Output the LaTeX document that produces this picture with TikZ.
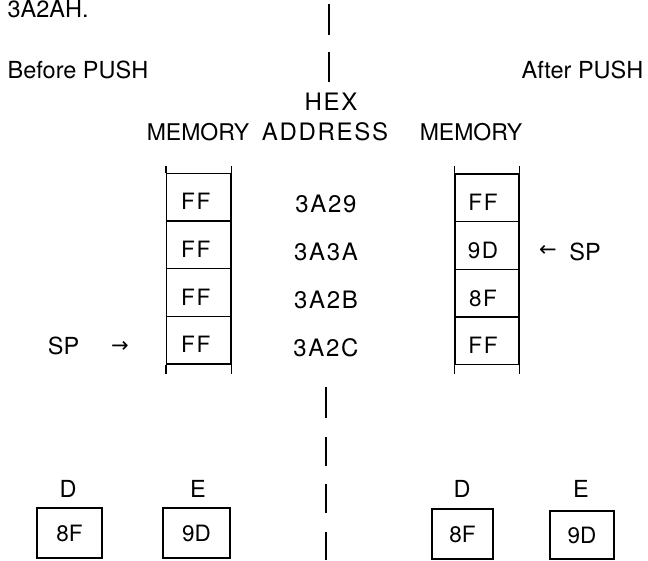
\documentclass[tikz,border=0pt]{standalone}
\usepackage{fontspec}
\setmainfont{TeX Gyre Heros}
\newfontfamily\spaced[LetterSpace=7]{TeX Gyre Heros}
\newfontfamily\arrowfont{DejaVu Sans}
\usetikzlibrary{calc}
\begin{document}
\begin{tikzpicture}[x=1pt,y=-1pt,line width=1.3pt,
  txt/.style={inner sep=0pt,anchor=base,font=\fontsize{23.5}{24}\selectfont},
  head/.style={inner sep=0pt,anchor=base,font=\fontsize{24}{24}\selectfont\spaced},
  memhead/.style={inner sep=0pt,anchor=base,font=\fontsize{23}{24}\selectfont},
  celltxt/.style={inner sep=0pt,anchor=base,font=\fontsize{22.5}{23}\selectfont\spaced},
  arr/.style={inner sep=0pt,font=\fontsize{21}{21}\selectfont\arrowfont},
  memcell/.style={draw,rectangle,inner sep=0pt,minimum width=64.5pt,minimum height=47.7pt},
  regbox/.style={draw,rectangle,inner sep=0pt,minimum height=50pt,font=\fontsize{22.5}{23}\selectfont}
]
\useasboundingbox (0,0) rectangle (648,560);

% titles
\node[txt,anchor=base west] (title) at (7,17.5) {3A2AH.};
\node[txt,anchor=base west] (before) at (7,78) {Before PUSH};
\node[txt,anchor=base east] (after) at (644,78) {After PUSH};
\node[head] (hex) at (331,110) {HEX};
\node[memhead] (memL) at (198,140) {MEMORY};
\node[head] (addr) at (325,140) {ADDRESS};
\node[memhead] (memR) at (471,140) {MEMORY};

% dashed centre line
\foreach \a/\b in {4/35,52/82}{\draw (329,\a) -- (329,\b);}
\foreach \a/\b in {387/418,437/466,484/513,532/560}{\draw (326,\a) -- (326,\b);}

% left memory column
\foreach \i/\v in {1/FF,2/FF,3/FF,4/FF}{
  \node[memcell] (L\i) at (198.75,{173.5+47.6*(\i-0.5)}) {};
  \node[celltxt] (Lt\i) at ($(L\i.north)+(-3,37)$) {\v};
}
\draw (L1.north west) -- ++(0,-6.5);
\draw (L1.north east) -- ++(0,-6.5);
\draw (L4.south west) -- ++(0,9.5);
\draw (L4.south east) -- ++(0,9.5);

% addresses
\foreach \i/\v in {1/3A29,2/3A3A,3/3A2B,4/3A2C}{
  \node[head] (A\i) at (326,{212+48.2*(\i-1)}) {\v};
}

% right memory column
\foreach \i/\v in {1/FF,2/9D,3/8F,4/FF}{
  \node[memcell,minimum width=64pt] (R\i) at (487,{174+47.7*(\i-0.5)}) {};
  \node[celltxt] (Rt\i) at ($(R\i.north)+(-4,37.5)$) {\v};
}
\draw (R1.north west) -- ++(0,-7);
\draw (R1.north east) -- ++(0,-7);
\draw (R4.south west) -- ++(0,9);
\draw (R4.south east) -- ++(0,9);

% stack pointers
\node[txt,anchor=center] (spL) at (63.5,346) {SP};
\node[arr] (arL) at (120,347) {→};
\node[arr] (arR) at (548,251) {←};
\node[txt,anchor=center] (spR) at (585,252) {SP};

% registers
\node[regbox,minimum width=65pt] (DL) at (69.5,533) {8F};
\node[regbox,minimum width=67pt] (EL) at (196.5,533) {9D};
\node[regbox,minimum width=61pt] (DR) at (462.5,534) {8F};
\node[regbox,minimum width=64pt,minimum height=48pt] (ER) at (582,535) {9D};
\node[txt] (DLl) at (68,497) {D};
\node[txt] (ELl) at (198,497) {E};
\node[txt] (DRl) at (462,497) {D};
\node[txt] (ERl) at (581,497) {E};
\end{tikzpicture}
\end{document}
